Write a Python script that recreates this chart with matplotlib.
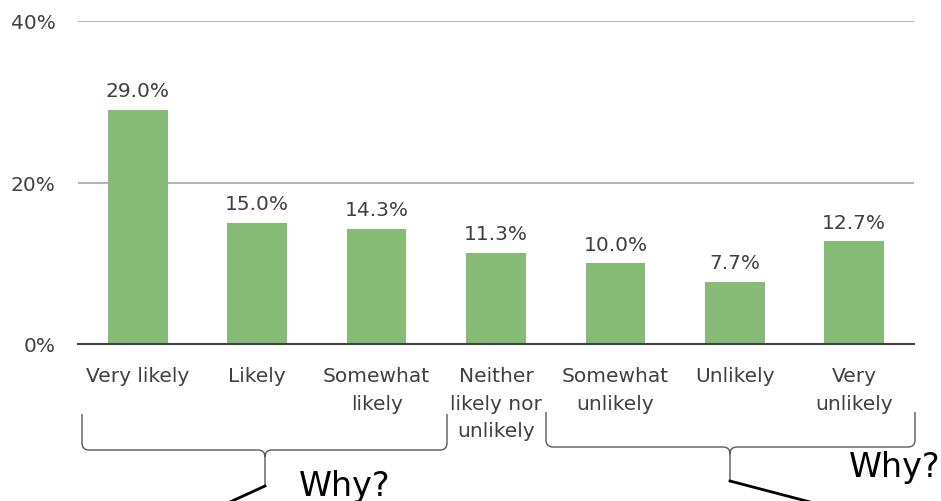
import matplotlib.pyplot as plt
from matplotlib.path import Path
from matplotlib.patches import PathPatch

categories = ["Very likely", "Likely", "Somewhat\nlikely", "Neither\nlikely nor\nunlikely",
              "Somewhat\nunlikely", "Unlikely", "Very\nunlikely"]
shares = [29.0, 15.0, 14.3, 11.3, 10.0, 7.7, 12.7]
y_ticks = [0, 20, 40]

bar_color = "#86bb76"
text_color = "#404040"

fig = plt.figure(figsize=(9.41, 5.02), dpi=100)
ax = fig.add_axes([78 / 941, 1 - 345 / 502, 836 / 941, 323 / 502])

x = range(len(categories))
bars = ax.bar(x, shares, width=0.5, color=bar_color, zorder=2)
for b, v in zip(bars, shares):
    ax.annotate(f"{v:.1f}%", (b.get_x() + b.get_width() / 2, v), xytext=(0, 7),
                textcoords="offset points", ha="center", va="bottom",
                fontsize=14.5, color=text_color)

ax.set_xlim(-0.5, len(categories) - 0.5)
ax.set_ylim(0, 40)
ax.set_yticks(y_ticks)
ax.set_yticklabels([f"{t}%" for t in y_ticks])
ax.set_xticks(list(x))
ax.set_xticklabels(categories, linespacing=1.56)
ax.tick_params(axis="both", length=0, labelsize=14.5, colors=text_color)
ax.tick_params(axis="x", pad=16)
ax.tick_params(axis="y", pad=16)
ax.grid(axis="y", color="#a6a6a6", linewidth=1.2, zorder=0)
for s in ["top", "right", "left"]:
    ax.spines[s].set_visible(False)
ax.spines["bottom"].set_color("#404040")
ax.spines["bottom"].set_linewidth(1.5)
ax.spines["bottom"].set_zorder(3)

# overlay in pixel coordinates for the braces and notes
ov = fig.add_axes([0, 0, 1, 1], facecolor="none")
ov.set_xlim(0, 941)
ov.set_ylim(502, 0)
ov.axis("off")


def brace(x0, x1, xm, ytop, yline, ytip):
    r = 7
    verts = [(x0, ytop), (x0, yline - r), (x0, yline), (x0 + r, yline),
             (xm - r, yline), (xm, yline), (xm, yline + r), (xm, ytip),
             (xm, yline + r), (xm, yline), (xm + r, yline),
             (x1 - r, yline), (x1, yline), (x1, yline - r), (x1, ytop)]
    codes = [Path.MOVETO, Path.LINETO, Path.CURVE3, Path.CURVE3,
             Path.LINETO, Path.CURVE3, Path.CURVE3, Path.LINETO,
             Path.MOVETO, Path.CURVE3, Path.CURVE3,
             Path.LINETO, Path.CURVE3, Path.CURVE3, Path.LINETO]
    ov.add_patch(PathPatch(Path(verts, codes), fill=False, edgecolor="#595959", lw=1.0))


brace(82, 447, 265, 415, 451, 487)
ov.plot([265, 230], [487, 503], color="black", lw=2)
ov.text(345, 487, "Why?", fontsize=24, ha="center", va="center", color="black")

brace(546, 915, 730, 413, 448, 482)
ov.plot([730, 810], [482, 503], color="black", lw=2)
ov.text(895, 468, "Why?", fontsize=24, ha="center", va="center", color="black")

fig.savefig("out.png", dpi=100)
